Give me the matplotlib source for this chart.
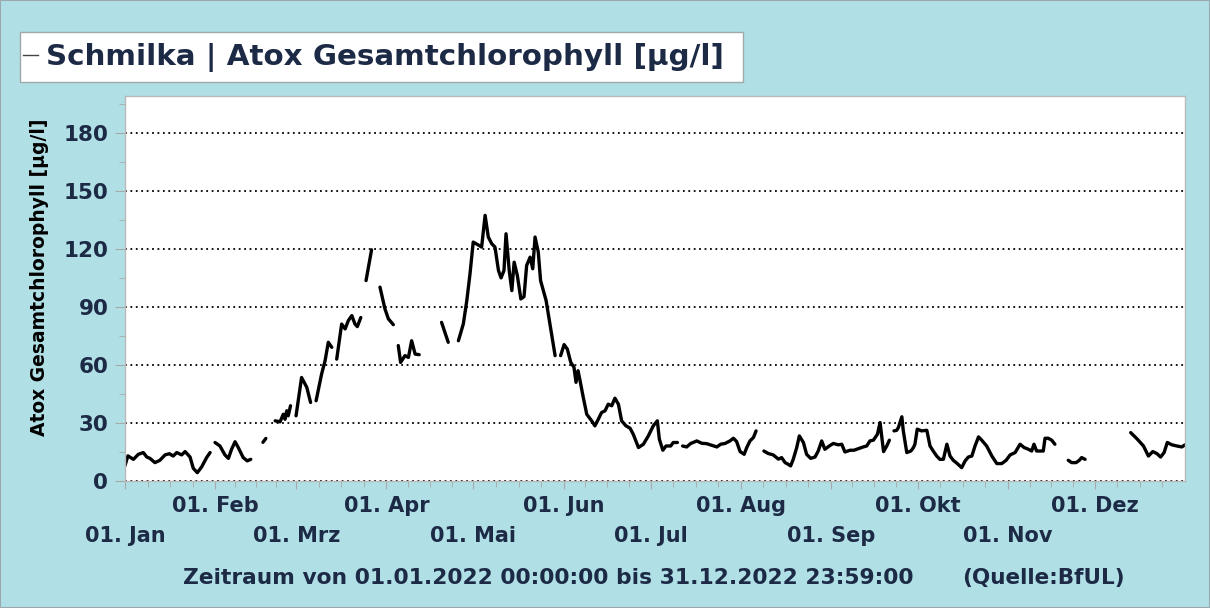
import numpy as np
import pandas as pd
import matplotlib
matplotlib.use("Agg")
import matplotlib.pyplot as plt
from matplotlib.lines import Line2D
from matplotlib.patches import Rectangle

nan = np.nan

# days after 01.01.2022 00:00, a nan value marks a gap in the record
days = [
    0, 1, 2.9, 4.6, 6.3, 7.5, 8.6, 10.3, 12, 13.8, 15.3, 16.6, 17.8, 19.5, 20.7, 22.4, 23.5, 24.9, 26.4, 28.1, 29.3, 30.1,
    31, 32.7, 34.4, 35.6, 36.7, 37.9, 39, 40.7, 42.1, 43.3, 45,
    47.5, 48.5, 50,
    51.7, 53.4, 54.5, 55.1, 55.7, 56.2, 57, 58,
    58.9, 60.8, 62.6, 63.9, 64.8,
    65.8, 67.7, 68.9, 70, 71.2, 72,
    72.9, 74.6, 75.8, 76.9, 78.1, 79.2, 80, 81.2, 82,
    83, 84.9, 86,
    87.8, 89.5, 90.7, 92.4, 93.2,
    94.1, 94.9, 96.4, 97.6, 98.7, 99.9, 101.3, 105,
    109, 111.3, 113,
    114.8, 116.5, 117.7, 118.8, 119.9, 121.3, 122.8, 124, 125.1, 126.3, 127.4, 128.6, 129.5, 130.5, 131.2,
    132.3, 133.2, 134, 135.1, 136.3, 137.4, 138.3, 139.5, 140.4, 141.2, 142.3, 143.1, 145, 146.3, 148.1, 149,
    150, 151.2, 152.3, 153.5, 154.6, 155.3, 156, 156.7, 157.8, 159, 160.7, 161.8, 163, 164.1, 165.3, 166.4, 167.6,
    168.7, 169.9, 171, 172.5, 173.9, 175, 176.8, 178.5, 180.2, 181.9, 183.3, 184, 185.2, 186.3, 187.9, 188.8, 190.2, 191,
    192, 193.4, 194.8, 196.9, 198.6, 200.3, 202, 203.8, 205.1, 206.6, 208.3, 209.5, 210.6, 211.8, 213.2, 214.1,
    215.2, 216.4, 217.3, 218.5,
    220, 221.5, 223.2, 225, 226.1, 227.3, 228.4, 229.2, 230.1, 231.3, 232.2, 233.6, 234.7, 236.1, 237.6, 238.7, 239.9,
    241, 242.5, 243.9, 245.6, 246.8, 247.9, 249.7, 251, 252.5, 254.2, 255.4, 256.5, 257.7, 259.1, 260, 260.6, 261.2,
    262.3, 263.2, 264,
    264.8, 265.7, 266.3, 267.5, 268, 269.2, 270.6, 271.5, 272, 272.8, 274.3, 276.1, 277.2, 278.3, 279.5, 280.6, 281.8,
    283, 284.1, 285.2, 286.6, 288.1, 289.3, 290.4, 291.6, 292.7, 293.9, 295, 296.7, 298.5, 300.2, 301.9, 303.4, 304.8,
    306.5, 308.2, 309.6, 311.1, 312.2, 313, 313.9, 316.2, 316.8, 317.9, 319.1, 320.2, 322,
    324.8, 326, 327.5, 328.6, 329.4, 330.6, 340,
    346.3, 347.8, 348.9, 350.7, 352.4, 353.9, 355.3, 356.6, 357.8, 358.9, 360.5, 362.2, 363.9, 365,
]
chl = [
    8, 13, 11.2, 13.8, 14.7, 12.4, 11.7, 9.5, 10.7, 13.5, 14.1, 12.9, 14.7, 13.5, 15.2, 12.4, 6.6, 4.3, 7.3, 12.1, 14.7, nan,
    19.9, 18.1, 13.5, 11.7, 16.4, 20.3, 17.3, 12.1, 10.4, 11.2, nan,
    20, 22, nan,
    31.1, 30.6, 34.5, 31.9, 36.3, 33.7, 38.9, nan,
    33.7, 53.5, 48.4, 40.6, nan,
    41.5, 55.3, 62.2, 71.7, 69.1, nan,
    63, 81.1, 78.6, 82.9, 85.5, 81.1, 79.8, 84.5, nan,
    103.6, 119.5, nan,
    100.2, 89, 83.8, 80.8, nan,
    70, 61.3, 64.8, 63.9, 72.5, 65.6, 65.3, nan,
    82, 71.7, nan,
    72.5, 81.2, 93.3, 107.1, 123.5, 122.3, 120.9, 137.3, 126.1, 122.6, 120.9, 108.8, 105, 108.8, 127.8,
    108.8, 98.4, 113.1, 106.2, 94.1, 95.3, 111.4, 115.7, 109.7, 126.1, 118.4, 103.6, 93.3, 81.2, 64.8, nan,
    64.8, 70.5, 68.2, 61.3, 58.8, 51, 57, 51.8, 43.2, 34.5, 31.1, 28.5, 32, 35.4, 36.3, 39.7, 38.9,
    42.8, 39.7, 31.1, 28.5, 27.3, 24.2, 17.3, 19, 23.3, 28.5, 31.1, 21.6, 15.9, 18.1, 18.1, 19.9, 19.9, nan,
    18.1, 17.6, 19.4, 20.7, 19.5, 19.3, 18.5, 17.6, 19, 19.4, 20.7, 22.1, 20.4, 15.2, 13.8, 17.3,
    20.7, 22.5, 25.9, nan,
    15.5, 14.2, 13.5, 11.3, 12.1, 9.5, 8.6, 7.8, 11.2, 17.3, 23.3, 19.9, 13.8, 11.7, 12.4, 15.5, 20.7,
    16.4, 18.1, 19.4, 18.7, 19, 15, 15.9, 15.9, 16.7, 17.6, 18.1, 20.7, 21.1, 24.2, 30.2, 22.5, 15.2,
    18.1, 21.1, nan,
    25.9, 26.2, 27.6, 33.2, 25.9, 14.7, 15.5, 17.3, 19, 26.8, 25.9, 26.2, 18.1, 15.5, 12.9, 11.2, 11.2,
    19, 12.9, 10.7, 9, 6.9, 10.4, 12.4, 12.9, 18.1, 22.8, 21.1, 18.1, 12.9, 9, 9, 10.7, 13.5,
    14.7, 19, 17.3, 16.4, 15.5, 19, 15.5, 15.5, 22.1, 22.1, 21.1, 19, nan,
    10.7, 9.5, 9.5, 10.7, 12.1, 11.2, nan,
    25, 22.8, 21.1, 18.1, 12.9, 15.2, 14.2, 12.4, 14.7, 19.9, 18.7, 18.1, 17.6, 18.7,
]
month_names = ["Jan", "Feb", "Mrz", "Apr", "Mai", "Jun", "Jul", "Aug", "Sep", "Okt", "Nov", "Dez"]
y_ticks = [0, 30, 60, 90, 120, 150, 180]

title = "Schmilka | Atox Gesamtchlorophyll [µg/l]"
ylabel = "Atox Gesamtchlorophyll [µg/l]"
period = "Zeitraum von 01.01.2022 00:00:00 bis 31.12.2022 23:59:00"
source = "(Quelle:BfUL)"

assert len(days) == len(chl)

start = pd.Timestamp("2022-01-01")
t = start + pd.to_timedelta(days, unit="D")

bg = "#b0e0e6"
navy = "#1d2a46"
plt.rcParams["font.family"] = ["DejaVu Sans"]
plt.rcParams["font.weight"] = "bold"

W, H = 1210, 608
fig = plt.figure(figsize=(W / 100, H / 100), dpi=100, facecolor=bg)
ax = fig.add_axes([125 / W, 1 - 481 / H, 1060 / W, 385 / H])
ax.set_facecolor("white")

ax.plot(t, chl, color="black", lw=2.4, solid_joinstyle="round", solid_capstyle="round")

ax.set_xlim(start, pd.Timestamp("2023-01-01"))
ax.set_ylim(0, 199)

# x axis: month starts as major ticks, quarter months as minor ticks
months = pd.date_range("2022-01-01", periods=12, freq="MS")
minor = []
for m in months:
    ln = m + pd.offsets.MonthBegin(1) - m
    minor += [m + ln * k / 4 for k in (1, 2, 3)]
ax.set_xticks(months)
ax.set_xticks(minor, minor=True)
labels = []
for i, m in enumerate(months):
    txt = "01. " + month_names[i]
    labels.append("\n" + txt if i % 2 == 0 else txt)
ax.set_xticklabels(labels)
for lab in ax.get_xticklabels():
    lab.set_linespacing(1.62)
ax.tick_params(axis="x", which="major", length=6, color="#a9a9a9", labelsize=15, labelcolor=navy, pad=5)
ax.tick_params(axis="x", which="minor", length=4, color="#a9a9a9")

ax.set_yticks(y_ticks)
ax.set_yticks(np.arange(15, 199, 30), minor=True)
ax.tick_params(axis="y", which="major", length=7, color="#a9a9a9", labelsize=15.5, labelcolor=navy, pad=5)
ax.tick_params(axis="y", which="minor", length=4, color="#a9a9a9")

ax.yaxis.grid(True, which="major", linestyle=(0, (1, 2)), color="black", lw=1.3)
ax.set_axisbelow(True)
for s in ax.spines.values():
    s.set_color("#b9b9b9")
    s.set_linewidth(1)

fig.text(40 / W, 1 - 277 / H, ylabel, rotation=90, ha="center", va="center",
         fontsize=13.5, fontweight="bold", color="black")
fig.text(183 / W, 1 - 578 / H, period, ha="left", va="center",
         fontsize=15.7, fontweight="bold", color=navy)
fig.text(962 / W, 1 - 578 / H, source, ha="left", va="center",
         fontsize=15.5, fontweight="bold", color=navy)

# title box with a short legend line
fig.patches.append(Rectangle((20 / W, 1 - 82 / H), 723 / W, 50 / H, transform=fig.transFigure,
                             facecolor="white", edgecolor="#a0a8aa", lw=1))
fig.lines.append(Line2D([23 / W, 38 / W], [1 - 55 / H, 1 - 55 / H], transform=fig.transFigure,
                        color="#444444", lw=1))
fig.text(46 / W, 1 - 57 / H, title, ha="left", va="center",
         fontsize=21.2, fontweight="bold", color=navy)

fig.patches.append(Rectangle((0, 0), 1, 1, transform=fig.transFigure, fill=False,
                             edgecolor="#9aa9ad", lw=1.5))

fig.savefig("out.png", dpi=100, facecolor=bg)
